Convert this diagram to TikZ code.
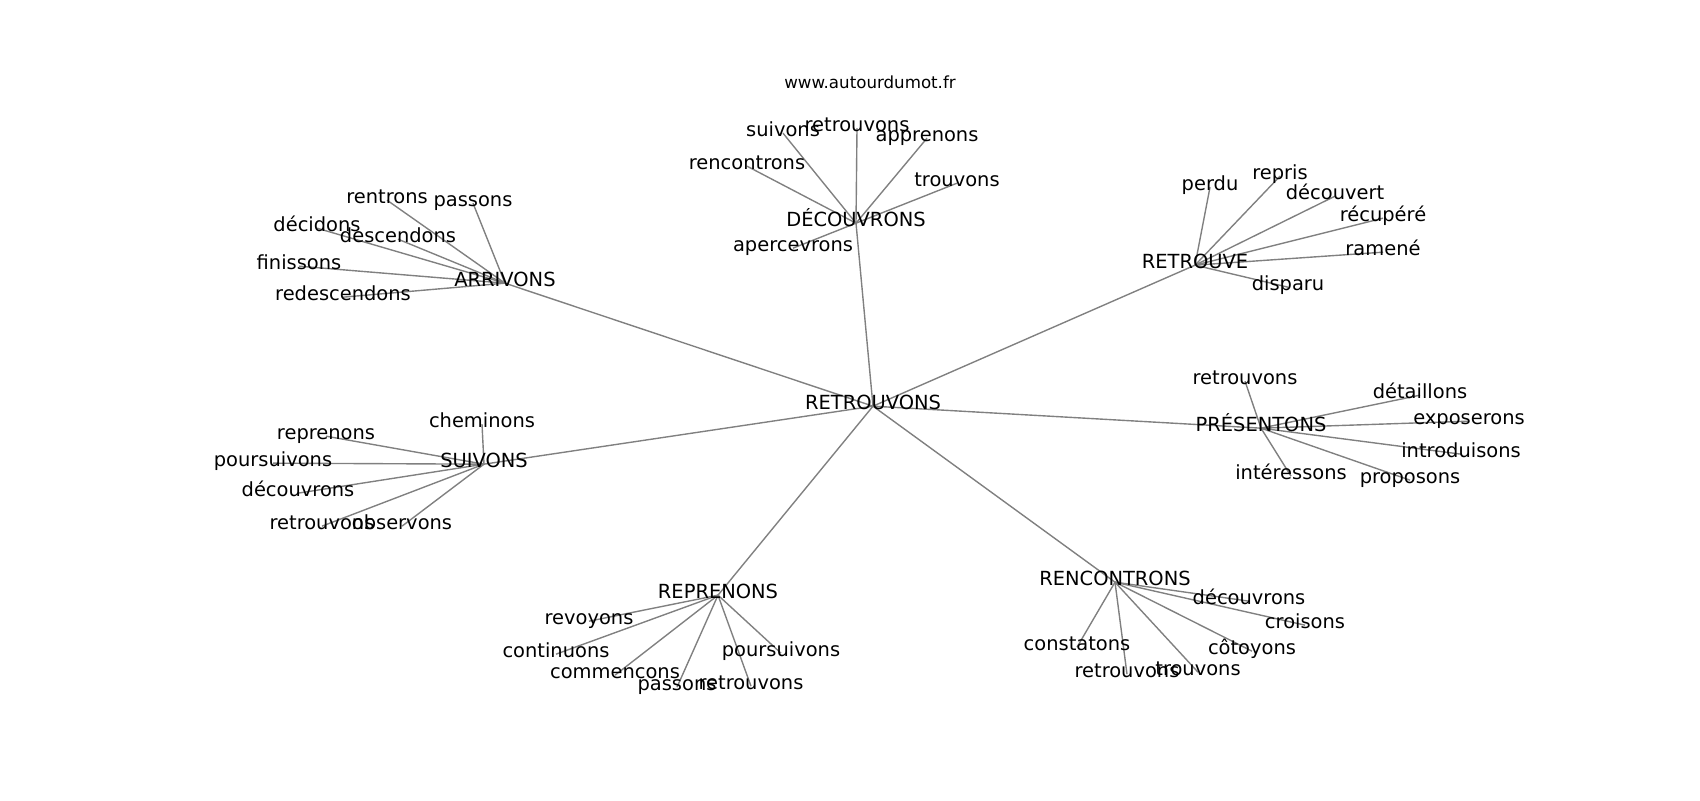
\documentclass[tikz,border=0pt]{standalone}
\usepackage{fontspec}
\setmainfont{DejaVu Sans}
\usetikzlibrary{backgrounds}

\begin{document}
\begin{tikzpicture}[
		x=0.72pt, y=-0.72pt,
		word/.style={
				inner sep=0pt,
				outer sep=0pt,
				text height=0.76em,
				text depth=0.24em,
				font=\fontsize{14}{17}\selectfont,
			},
		edge/.style={
				draw=gray,
				line width=1pt,
			},
	]
	\useasboundingbox (0,0) rectangle (1700,800);

	\node[font=\fontsize{12}{14}\selectfont] (T) at (870,82) {www.autourdumot.fr};

	\begin{scope}[yshift=-3pt]
		% centre
		\node[word] (C) at (873,402) {RETROUVONS};

		% DECOUVRONS
		\node[word] (D) at (856,219) {DÉCOUVRONS};
		\node[word] (D1) at (783,129) {suivons};
		\node[word] (D2) at (857,124) {retrouvons};
		\node[word] (D3) at (927,134) {apprenons};
		\node[word] (D4) at (747,162) {rencontrons};
		\node[word] (D5) at (957,179) {trouvons};
		\node[word] (D6) at (793,244) {apercevrons};

		% ARRIVONS
		\node[word] (A) at (505,279) {ARRIVONS};
		\node[word] (A1) at (387,196) {rentrons};
		\node[word] (A2) at (473,199) {passons};
		\node[word] (A3) at (317,224) {décidons};
		\node[word] (A4) at (398,235) {descendons};
		\node[word] (A5) at (299,262) {finissons};
		\node[word] (A6) at (343,293) {redescendons};

		% RETROUVE
		\node[word] (R) at (1195,261) {RETROUVE};
		\node[word] (R1) at (1210,183) {perdu};
		\node[word] (R2) at (1280,172) {repris};
		\node[word] (R3) at (1335,192) {découvert};
		\node[word] (R4) at (1383,214) {récupéré};
		\node[word] (R5) at (1383,248) {ramené};
		\node[word] (R6) at (1288,283) {disparu};

		% PRESENTONS
		\node[word] (P) at (1261,424) {PRÉSENTONS};
		\node[word] (P1) at (1245,377) {retrouvons};
		\node[word] (P2) at (1420,391) {détaillons};
		\node[word] (P3) at (1469,417) {exposerons};
		\node[word] (P4) at (1461,450) {introduisons};
		\node[word] (P5) at (1410,476) {proposons};
		\node[word] (P6) at (1291,472) {intéressons};

		% SUIVONS
		\node[word] (S) at (484,460) {SUIVONS};
		\node[word] (S1) at (482,420) {cheminons};
		\node[word] (S2) at (326,432) {reprenons};
		\node[word] (S3) at (273,459) {poursuivons};
		\node[word] (S4) at (298,489) {découvrons};
		\node[word] (S5) at (322,522) {retrouvons};
		\node[word] (S6) at (402,522) {observons};

		% REPRENONS
		\node[word] (E) at (718,591) {REPRENONS};
		\node[word] (E1) at (589,617) {revoyons};
		\node[word] (E2) at (556,650) {continuons};
		\node[word] (E3) at (615,671) {commencons};
		\node[word] (E4) at (677,683) {passons};
		\node[word] (E5) at (751,682) {retrouvons};
		\node[word] (E6) at (781,649) {poursuivons};

		% RENCONTRONS
		\node[word] (N) at (1115,578) {RENCONTRONS};
		\node[word] (N1) at (1249,597) {découvrons};
		\node[word] (N2) at (1305,621) {croisons};
		\node[word] (N3) at (1252,647) {côtoyons};
		\node[word] (N4) at (1198,668) {trouvons};
		\node[word] (N5) at (1127,670) {retrouvons};
		\node[word] (N6) at (1077,643) {constatons};
	\end{scope}

	\begin{pgfonlayer}{background}
		\draw[edge] (C.center) -- (D.center);
		\draw[edge] (C.center) -- (A.center);
		\draw[edge] (C.center) -- (R.center);
		\draw[edge] (C.center) -- (P.center);
		\draw[edge] (C.center) -- (S.center);
		\draw[edge] (C.center) -- (E.center);
		\draw[edge] (C.center) -- (N.center);

		\draw[edge] (D.center) -- (D1.center);
		\draw[edge] (D.center) -- (D2.center);
		\draw[edge] (D.center) -- (D3.center);
		\draw[edge] (D.center) -- (D4.center);
		\draw[edge] (D.center) -- (D5.center);
		\draw[edge] (D.center) -- (D6.center);

		\draw[edge] (A.center) -- (A1.center);
		\draw[edge] (A.center) -- (A2.center);
		\draw[edge] (A.center) -- (A3.center);
		\draw[edge] (A.center) -- (A4.center);
		\draw[edge] (A.center) -- (A5.center);
		\draw[edge] (A.center) -- (A6.center);

		\draw[edge] (R.center) -- (R1.center);
		\draw[edge] (R.center) -- (R2.center);
		\draw[edge] (R.center) -- (R3.center);
		\draw[edge] (R.center) -- (R4.center);
		\draw[edge] (R.center) -- (R5.center);
		\draw[edge] (R.center) -- (R6.center);

		\draw[edge] (P.center) -- (P1.center);
		\draw[edge] (P.center) -- (P2.center);
		\draw[edge] (P.center) -- (P3.center);
		\draw[edge] (P.center) -- (P4.center);
		\draw[edge] (P.center) -- (P5.center);
		\draw[edge] (P.center) -- (P6.center);

		\draw[edge] (S.center) -- (S1.center);
		\draw[edge] (S.center) -- (S2.center);
		\draw[edge] (S.center) -- (S3.center);
		\draw[edge] (S.center) -- (S4.center);
		\draw[edge] (S.center) -- (S5.center);
		\draw[edge] (S.center) -- (S6.center);

		\draw[edge] (E.center) -- (E1.center);
		\draw[edge] (E.center) -- (E2.center);
		\draw[edge] (E.center) -- (E3.center);
		\draw[edge] (E.center) -- (E4.center);
		\draw[edge] (E.center) -- (E5.center);
		\draw[edge] (E.center) -- (E6.center);

		\draw[edge] (N.center) -- (N1.center);
		\draw[edge] (N.center) -- (N2.center);
		\draw[edge] (N.center) -- (N3.center);
		\draw[edge] (N.center) -- (N4.center);
		\draw[edge] (N.center) -- (N5.center);
		\draw[edge] (N.center) -- (N6.center);
	\end{pgfonlayer}
\end{tikzpicture}
\end{document}
